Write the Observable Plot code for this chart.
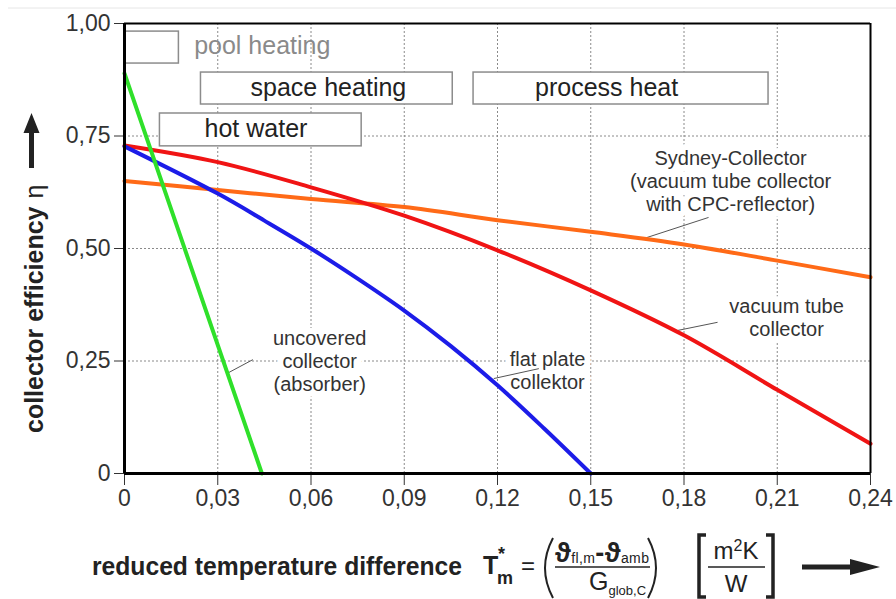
<!DOCTYPE html>
<html>
<head>
<meta charset="utf-8">
<script src="https://cdn.jsdelivr.net/npm/d3@7"></script>
<script src="https://cdn.jsdelivr.net/npm/@observablehq/plot@0.6"></script>
<style>
  html, body { margin: 0; padding: 0; background: #fff; }
  #chart { width: 896px; height: 599px; }
</style>
</head>
<body>
<div id="chart"></div>
<script>
// ---- data ----
const tStar = [0, 0.03, 0.06, 0.09, 0.12, 0.15, 0.18, 0.21, 0.24];
const etaTicks = [0, 0.25, 0.5, 0.75, 1.0];

const vacuumTube = [0.729, 0.692, 0.636, 0.573, 0.496, 0.407, 0.307, 0.186, 0.066];
const sydney     = [0.650, 0.630, 0.610, 0.592, 0.563, 0.537, 0.509, 0.473, 0.436];

const flatPlateT = [0, 0.03, 0.045, 0.06, 0.075, 0.09, 0.105, 0.12, 0.135, 0.15];
const flatPlate  = [0.727, 0.622, 0.562, 0.500, 0.433, 0.362, 0.283, 0.196, 0.100, 0];

const uncoveredT = [0, 0.0442];
const uncovered  = [0.889, 0];

const fmt = d => d === 0 ? "0" : d.toFixed(2).replace(".", ",");

const pts = (xs, ys) => xs.map((x, i) => ({x, y: ys[i]}));

const gridX = tStar.filter(d => d > 0 && d < 0.24);
const gridY = etaTicks.filter(d => d > 0 && d < 1);

const labelFont = "Liberation Sans, Arial, Helvetica, sans-serif";

const boxes = [
  {x1: 0,      x2: 0.0175, y1: 0.911, y2: 0.982},
  {x1: 0.0246, x2: 0.1056, y1: 0.820, y2: 0.891},
  {x1: 0.1123, x2: 0.2072, y1: 0.820, y2: 0.891},
  {x1: 0.0114, x2: 0.0763, y1: 0.727, y2: 0.800}
];
const boxLabels = [
  {x: 0.0656, y: 0.856, t: "space heating"},
  {x: 0.1551, y: 0.856, t: "process heat"},
  {x: 0.0423, y: 0.765, t: "hot water"}
];
const curveLabels = [
  {x: 0.0628, y: 0.251, t: "uncovered\ncollector\n(absorber)", a: "middle"},
  {x: 0.1361, y: 0.229, t: "flat plate\ncollektor", a: "start"},
  {x: 0.2130, y: 0.347, t: "vacuum tube\ncollector", a: "middle"},
  {x: 0.1950, y: 0.651, t: "Sydney-Collector\n(vacuum tube collector\nwith CPC-reflector)", a: "middle"}
];
const leaders = [
  {x1: 0.0413, y1: 0.253, x2: 0.0329, y2: 0.222},
  {x1: 0.1333, y1: 0.233, x2: 0.1188, y2: 0.211},
  {x1: 0.1908, y1: 0.336, x2: 0.1766, y2: 0.316},
  {x1: 0.1879, y1: 0.569, x2: 0.1670, y2: 0.522}
];

const svg = Plot.plot({
  width: 896,
  height: 599,
  marginLeft: 124,
  marginRight: 26,
  marginTop: 23,
  marginBottom: 126,
  style: {fontFamily: labelFont, fontSize: "23px", color: "#333", background: "white"},
  x: {domain: [0, 0.24], ticks: tStar, tickFormat: fmt, tickSize: 12, tickPadding: 4, label: null},
  y: {domain: [0, 1], ticks: etaTicks, tickFormat: fmt, tickSize: 10, tickPadding: 4, label: null},
  marks: [
    Plot.ruleX(gridX, {stroke: "#8a8a8a", strokeWidth: 1, strokeDasharray: "2,2"}),
    Plot.ruleY(gridY, {stroke: "#8a8a8a", strokeWidth: 1, strokeDasharray: "2,2"}),
    Plot.rect(boxes, {x1: "x1", x2: "x2", y1: "y1", y2: "y2", fill: "white", stroke: "#8c8c8c", strokeWidth: 1.5}),
    Plot.text(boxLabels, {x: "x", y: "y", text: "t", fontSize: 25, fill: "#222", fontFamily: labelFont}),
    Plot.text(["pool heating"], {x: 0.0224, y: 0.951, text: d => d, textAnchor: "start", fontSize: 25, fill: "#8a8a8a", fontFamily: labelFont}),
    Plot.text(curveLabels, {x: "x", y: "y", text: "t", textAnchor: "a", fontSize: 20, lineHeight: 1.15, fill: "#333", stroke: "white", strokeWidth: 12, fontFamily: labelFont}),
    Plot.link(leaders, {x1: "x1", y1: "y1", x2: "x2", y2: "y2", stroke: "#555", strokeWidth: 1}),
    Plot.line(pts(tStar, sydney), {x: "x", y: "y", stroke: "#ff6a17", strokeWidth: 4, curve: "catmull-rom"}),
    Plot.line(pts(tStar, vacuumTube), {x: "x", y: "y", stroke: "#f01414", strokeWidth: 4, curve: "catmull-rom"}),
    Plot.line(pts(flatPlateT, flatPlate), {x: "x", y: "y", stroke: "#1c1ce8", strokeWidth: 4, curve: "catmull-rom"}),
    Plot.line(pts(uncoveredT, uncovered), {x: "x", y: "y", stroke: "#2fe02a", strokeWidth: 4}),
    Plot.ruleX([0.24], {stroke: "black", strokeWidth: 2}),
    Plot.ruleY([1], {stroke: "black", strokeWidth: 2}),
    Plot.ruleX([0], {stroke: "black", strokeWidth: 3}),
    Plot.ruleY([0], {stroke: "black", strokeWidth: 3})
  ]
});

document.getElementById("chart").appendChild(svg);

// ---- extra titles (axis labels with formula) ----
const s = d3.select(svg);
s.append("line").attr("x1", 8).attr("x2", 896).attr("y1", 8).attr("y2", 8)
  .attr("stroke", "#e6e6e6").attr("stroke-width", 1);

// y title
const yt = s.append("text")
  .attr("transform", "translate(43,433) rotate(-90)")
  .attr("text-anchor", "start")
  .attr("font-family", labelFont).attr("font-size", 25).attr("fill", "#222");
yt.append("tspan").attr("font-weight", "bold").text("collector efficiency");
yt.append("tspan").attr("dx", 8).text("η");
// up arrow
s.append("path").attr("d", "M29,168 V131 H34 V168 Z M23.5,133 L31.5,113 L39.5,133 Z").attr("fill", "#222");

// x title
s.append("text").attr("x", 92).attr("y", 575).attr("text-anchor", "start")
  .attr("font-family", labelFont).attr("font-size", 25).attr("font-weight", "bold").attr("fill", "#222")
  .attr("textLength", 370).attr("lengthAdjust", "spacingAndGlyphs")
  .text("reduced temperature difference");

const g = s.append("g").attr("font-family", labelFont).attr("fill", "#222").attr("text-anchor", "start");
// T*_m
g.append("text").attr("x", 483).attr("y", 574).attr("font-size", 25).attr("font-weight", "bold").text("T");
g.append("text").attr("x", 498).attr("y", 560).attr("font-size", 18).attr("font-weight", "bold").text("*");
g.append("text").attr("x", 497).attr("y", 584).attr("font-size", 18).attr("font-weight", "bold").text("m");
g.append("text").attr("x", 521).attr("y", 574).attr("font-size", 24).text("=");
// parentheses
g.append("path").attr("d", "M553,538 Q537,568 553,598").attr("fill", "none").attr("stroke", "#222").attr("stroke-width", 2);
g.append("path").attr("d", "M648,538 Q664,568 648,598").attr("fill", "none").attr("stroke", "#222").attr("stroke-width", 2);
// numerator
const num = g.append("text").attr("x", 555).attr("y", 562).attr("font-size", 27)
  .attr("textLength", 94).attr("lengthAdjust", "spacing");
num.append("tspan").attr("font-weight", "bold").text("ϑ");
num.append("tspan").attr("font-size", 14).attr("dy", 1).text("fl,m");
num.append("tspan").attr("dy", -1).attr("font-weight", "bold").text("-");
num.append("tspan").attr("font-weight", "bold").text("ϑ");
num.append("tspan").attr("font-size", 14).attr("dy", 1).text("amb");
g.append("line").attr("x1", 555).attr("x2", 650).attr("y1", 567).attr("y2", 567).attr("stroke", "#222").attr("stroke-width", 1.5);
// denominator
const den = g.append("text").attr("x", 589).attr("y", 590).attr("font-size", 25);
den.append("tspan").text("G");
den.append("tspan").attr("font-size", 13).attr("dy", 5).text("glob,C");
// brackets
g.append("path").attr("d", "M706,535 H699 V597 H706").attr("fill", "none").attr("stroke", "#222").attr("stroke-width", 3.5);
g.append("path").attr("d", "M766,535 H773 V597 H766").attr("fill", "none").attr("stroke", "#222").attr("stroke-width", 3.5);
const unit = g.append("text").attr("x", 736).attr("y", 559).attr("font-size", 24).attr("text-anchor", "middle");
unit.append("tspan").text("m");
unit.append("tspan").attr("font-size", 16).attr("dy", -8).text("2");
unit.append("tspan").attr("dy", 8).text("K");
g.append("line").attr("x1", 708).attr("x2", 765).attr("y1", 567).attr("y2", 567).attr("stroke", "#222").attr("stroke-width", 1.5);
g.append("text").attr("x", 736).attr("y", 592).attr("font-size", 24).attr("text-anchor", "middle").text("W");
// right arrow
s.append("path").attr("d", "M802,564.5 H852 V569.5 H802 Z M850,559 L880,567 L850,575 Z").attr("fill", "#222");
</script>
</body>
</html>
